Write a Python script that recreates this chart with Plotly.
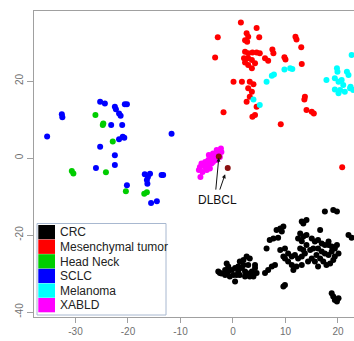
import plotly.graph_objects as go

# ---------------- data (t-SNE coordinates) ----------------
crc_x = [17.5, 19.1, 19.8, 22.0, 22.6, 14.0, 13.4, 13.1, 9.6, 9.0, 8.3, 9.3, 16.6, 7.7, 8.6, 7.0,
         12.8, 13.4, 14.0, 12.4, 13.1, 15.0, 15.6, 16.2, 16.9, 17.5, 18.2, 18.8, 19.4, 16.2, 16.9,
         17.5, 18.2, 18.8, 19.4, 20.1, 15.3, 15.9, 16.6, 17.2, 17.8, 18.5, 19.1, 15.6, 16.2, 18.2,
         19.8, 15.0, 9.9, 10.5, 11.2, 11.8, 12.4, 13.1, 13.7, 13.4, 12.8, 9.9, 10.5, 11.2, 12.1,
         13.1, 14.3, 11.5, 9.6, 14.0, 14.7, 6.4, 9.0, 2.6, 3.2, 2.0, 1.3, -1.2, -0.9, -2.8, -2.2,
         -1.5, -0.9, -0.2, 0.4, 1.0, 1.7, 2.3, 2.9, 3.6, 4.2, 4.5, 3.9, 3.2, 2.3, 1.3, 0.7, 0.1,
         -0.6, 0.4, 2.0, 2.9, -1.5, -2.5, 1.0, 4.2, 6.1, 6.7, 7.4, 8.0, 9.9, 9.6, 18.8, 19.1,
         19.4, 19.8, 20.1]
crc_y = [-13.9, -13.5, -13.9, -20.0, -20.7, -16.1, -17.0, -16.5, -17.8, -18.3, -18.7, -19.1,
         -18.7, -20.9, -20.7, -21.3, -19.6, -20.4, -20.0, -20.9, -21.6, -20.9, -21.7, -21.3,
         -22.2, -22.6, -21.7, -23.0, -23.5, -23.5, -24.3, -24.8, -25.2, -24.3, -25.6, -24.8,
         -23.5, -25.2, -26.1, -26.9, -27.8, -27.4, -26.5, -26.9, -28.2, -22.6, -22.6, -26.1,
         -23.5, -24.8, -25.6, -25.2, -26.1, -25.6, -24.8, -23.9, -23.5, -26.1, -26.9, -27.8,
         -28.2, -27.8, -26.9, -29.1, -25.6, -22.6, -23.9, -23.5, -23.9, -25.6, -26.1, -26.5,
         -26.9, -27.4, -28.2, -29.5, -30.0, -30.4, -29.5, -29.1, -28.6, -28.2, -28.6, -29.5,
         -30.0, -29.5, -28.6, -29.9, -30.8, -30.8, -30.8, -30.4, -30.4, -30.4, -30.8, -32.1,
         -27.8, -27.8, -29.1, -29.9, -29.5, -27.8, -29.9, -29.1, -28.2, -27.8, -33.0, -33.4,
         -35.1, -36.0, -36.9, -37.3, -36.4]

mes_x = [1.5, 4.5, 2.6, 2.9, 2.3, 2.7, 5.0, -2.9, 11.9, 12.1, 13.0, -3.4, 2.3, 2.9, 3.7, 4.5,
         5.1, 2.1, 2.9, 3.6, 4.2, 2.9, 3.6, 2.3, 7.5, 7.7, 6.1, 6.7, 9.8, 10.0, 13.1, 0.1, 1.7,
         3.2, 3.9, 2.9, 3.6, 3.2, 2.6, 4.5, 4.2, -1.8, 13.7, 13.6, 14.0, 15.0, 15.4, 3.7, 9.1,
         20.8]
mes_y = [35.2, 33.8, 32.4, 31.5, 30.6, 30.2, 31.4, 31.4, 31.5, 30.8, 28.8, 26.1, 27.6, 27.2,
         27.4, 27.4, 27.2, 25.9, 25.9, 25.5, 24.6, 24.2, 23.3, 24.8, 28.2, 27.2, 25.9, 25.3,
         26.2, 25.6, 24.4, 19.8, 19.8, 19.8, 19.2, 18.1, 17.2, 15.9, 14.6, 13.3, 11.2, 11.9,
         15.9, 15.2, 12.5, 12.0, 11.6, 10.7, 8.8, -2.4]

hn_x = [-26.2, -24.8, -24.7, -22.9, -30.7, -30.4, -24.2, -20.4, -16.4, -16.9]
hn_y = [11.2, 8.6, 9.0, 4.3, -3.4, -4.0, -3.7, -8.6, -8.9, -9.3]

sclc_x = [-25.3, -24.4, -22.5, -22.3, -20.2, -20.6, -21.7, -21.4, -32.6, -32.5, -23.2, -21.1,
          -35.4, -21.0, -21.7, -20.7, -11.7, -25.3, -22.5, -22.5, -26.1, -16.8, -15.8, -16.4,
          -16.3, -16.2, -13.3, -13.6, -20.2, -15.6, -14.5]
sclc_y = [14.6, 14.2, 13.3, 12.7, 14.0, 14.0, 11.6, 11.0, 11.4, 10.6, 8.6, 8.6, 5.6, 5.5, 4.9,
          5.3, 6.3, 2.9, 0.7, -1.8, -2.6, -4.2, -4.1, -5.7, -6.7, -4.9, -4.4, -4.4, -7.1, -11.7,
          -11.2]

mel_x = [7.8, 7.4, 6.4, 9.8, 10.9, 11.3, 3.9, 5.1, 19.8, 17.8, 19.4, 20.1, 20.7, 21.7, 22.0,
         21.0, 20.4, 19.4, 20.1, 21.3, 22.3, 22.6, 22.9, 19.9, 22.4]
mel_y = [21.7, 21.4, 19.8, 23.0, 23.3, 23.1, 15.2, 13.8, 23.3, 20.3, 20.7, 19.8, 20.3, 22.4,
         21.6, 19.0, 17.7, 17.8, 16.8, 17.2, 18.1, 26.8, 17.7, 22.4, 18.5]

xabld_x = [-2.3, -3.1, -3.8, -3.4, -4.1, -4.7, -5.3, -6.0, -5.7, -6.3, -5.3, -4.7, -4.1, -3.8,
           -3.1, -2.5, -2.8, -5.8, -6.2, -5.0, -4.4, -2.2, -4.6, -3.6, -6.5]
xabld_y = [2.5, 2.1, 1.2, 0.3, -0.1, -0.5, -1.0, -1.4, -1.8, -2.3, -2.4, -1.8, -1.4, -1.0, -0.5,
           0.3, 1.2, -3.6, -4.9, -3.1, -2.7, 1.6, 0.8, 0.0, -3.1]

dlbcl_x = [-2.7, -1.0]
dlbcl_y = [0.4, -2.6]

legend_names = ["CRC", "Mesenchymal tumor", "Head Neck", "SCLC", "Melanoma", "XABLD"]
legend_colors = ["#000000", "#ff0000", "#00cd00", "#0000ff", "#00ffff", "#ff00ff"]

x_ticks = [-30, -20, -10, 0, 10, 20]
x_tick_labels = ["-30", "-20", "-10", "0", "10", "20"]
y_ticks = [20, 0, -20, -40]
y_tick_labels = ["20", "0", "-20", "-40"]

# ---------------- figure ----------------
W, H = 354, 341
ML, MR, MT, MB = 34, 0, 11, 24
PW, PH = W - ML - MR, H - MT - MB

series = [
    (crc_x, crc_y, legend_colors[0]),
    (mes_x, mes_y, legend_colors[1]),
    (hn_x, hn_y, legend_colors[2]),
    (sclc_x, sclc_y, legend_colors[3]),
    (mel_x, mel_y, legend_colors[4]),
    (xabld_x, xabld_y, legend_colors[5]),
    (dlbcl_x, dlbcl_y, "#8b1010"),
]

fig = go.Figure()
for xs, ys, col in series:
    fig.add_trace(go.Scatter(x=xs, y=ys, mode="markers",
                             marker=dict(color=col, size=6, line=dict(width=0)),
                             showlegend=False, hoverinfo="skip"))

axis_col = "#a0a0a0"
fig.update_layout(
    width=W, height=H,
    margin=dict(l=ML, r=MR, t=MT, b=MB, pad=0, autoexpand=False),
    paper_bgcolor="white", plot_bgcolor="white",
    showlegend=False,
    xaxis=dict(range=[-37.9, 23.05], showgrid=False, zeroline=False, automargin=False,
               showline=True, linecolor=axis_col, linewidth=1, mirror=True,
               ticks="outside", ticklen=5, tickcolor=axis_col, tickwidth=1,
               tickvals=x_ticks, ticktext=x_tick_labels,
               tickfont=dict(family="Liberation Sans, Arial", size=10, color="#707070")),
    yaxis=dict(range=[-41.3, 38.2], showgrid=False, zeroline=False, automargin=False,
               showline=True, linecolor=axis_col, linewidth=1,
               ticks="outside", ticklen=6, tickcolor=axis_col, tickwidth=1,
               tickvals=y_ticks, ticktext=y_tick_labels, tickangle=-90,
               tickfont=dict(family="Liberation Sans, Arial", size=10, color="#707070")),
)

# DLBCL label with two arrows
fig.add_annotation(x=-2.86, y=-10.9, text="DLBCL", showarrow=False,
                   font=dict(family="Liberation Sans, Arial", size=12, color="#111111"))
for (hx, hy, tx, ty) in [(dlbcl_x[0], dlbcl_y[0] - 0.3, -3.3, -8.6),
                         (dlbcl_x[1] - 0.5, dlbcl_y[1] - 1.6, -2.6, -8.6)]:
    fig.add_annotation(x=hx, y=hy, ax=tx, ay=ty, xref="x", yref="y", axref="x", ayref="y",
                       text="", showarrow=True, arrowhead=2, arrowsize=0.8,
                       arrowwidth=1, arrowcolor="#111111")

# manual legend (pixel layout converted to paper coordinates)
def px2p(px):
    return (px - ML) / PW

def py2p(py):
    return (H - MB - py) / PH

fig.add_shape(type="rect", xref="paper", yref="paper",
              x0=px2p(37), x1=px2p(166), y0=py2p(315), y1=py2p(223.5),
              fillcolor="white", line=dict(color="#a8b8d0", width=1), layer="above")
row_top = 225.0
row_h = 14.6
for i, (name, col) in enumerate(zip(legend_names, legend_colors)):
    t = row_top + i * row_h
    fig.add_shape(type="rect", xref="paper", yref="paper",
                  x0=px2p(38.3), x1=px2p(55), y0=py2p(t + row_h - 0.3), y1=py2p(t),
                  fillcolor=col, line=dict(width=0), layer="above")
    fig.add_annotation(x=px2p(58), y=py2p(t + row_h / 2), xref="paper", yref="paper",
                       xanchor="left", yanchor="middle", text=name, showarrow=False,
                       font=dict(family="Liberation Sans, Arial", size=12, color="#222222"))

fig.write_html("out.html", config={"displayModeBar": False},
               post_script="document.body.style.margin='0';document.body.style.overflow='hidden';")
